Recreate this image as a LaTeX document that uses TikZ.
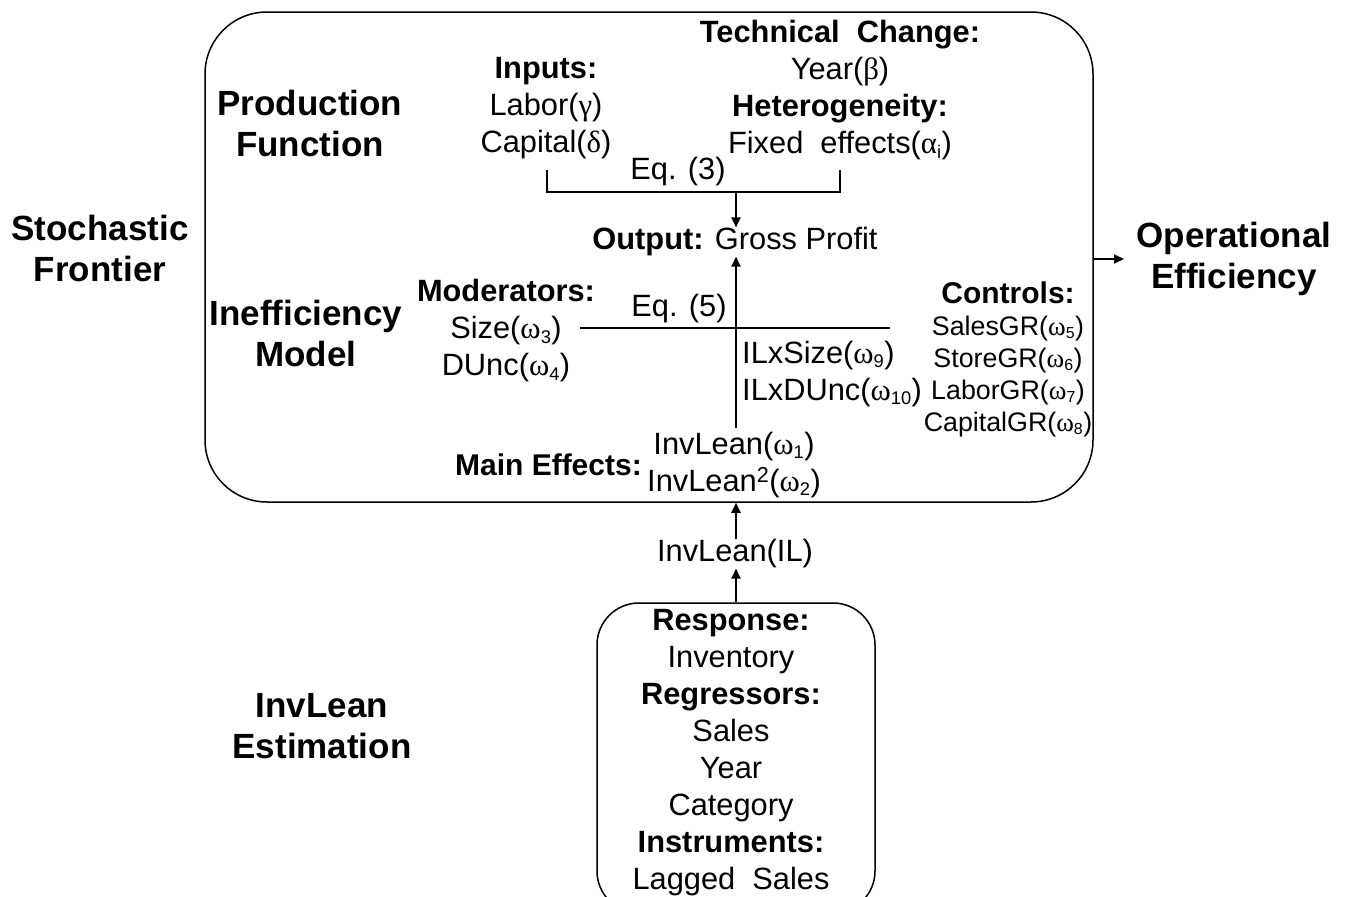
\documentclass[tikz,border=0pt]{standalone}
\usepackage{fontspec}
\usepackage{graphicx}
\setmainfont{Liberation Sans}
\newfontfamily\grk{Liberation Serif}
\newcommand\om{{\grk ω}}
\newcommand\lo[1]{\textsubscript{\scalebox{0.85}{#1}}}
\usetikzlibrary{arrows.meta}
\begin{document}
\begin{tikzpicture}[x=1pt,y=-1pt,
  txt/.style={font=\fontsize{30.8}{37}\selectfont, align=center, inner sep=0pt},
  sm/.style={font=\fontsize{26.8}{32}\selectfont, align=center, inner sep=0pt},
  ttl/.style={font=\bfseries\fontsize{35}{41}\selectfont, align=center, inner sep=0pt},
  box/.style={draw, line width=1.5pt},
  con/.style={line width=2pt},
  arr/.style={con, -{Triangle[width=9pt,length=10pt]}}]
\useasboundingbox (0,0) rectangle (1345,897);
% boxes
\node[box, rounded corners=62pt, minimum width=888pt, minimum height=490pt] (main) at (649,257) {};
\node[box, rounded corners=42pt, minimum width=278pt, minimum height=310pt] (est) at (736,758) {};
% outer titles
\node[ttl] (sf) at (100,248) {Stochastic\\Frontier};
\node[ttl] (pf) at (310,123) {Production\\Function};
\node[ttl] (im) at (306,333) {Inefficiency\\Model};
\node[ttl] (ile) at (322,726) {InvLean\\Estimation};
\node[ttl] (oe) at (1234,259) {Operational\\Efficiency};
% production function
\node[txt] (inp) at (546,108) {\textbf{Inputs:}\\Labor({\grk γ})\\Capital({\grk δ})};
\node[txt] (tc) at (840,90) {\textbf{Technical\ \ Change:}\\Year({\grk β})\\\textbf{Heterogeneity:}\\Fixed\ \ effects({\grk α}\lo{i})};
\node[txt] (eq3) at (678,172) {Eq. (3)};
\node[txt] (out) at (735,242) {\textbf{Output:} Gross Profit};
% inefficiency
\node[txt] (eq5) at (679,309) {Eq. (5)};
\node[txt] (mod) at (506,331) {\textbf{Moderators:}\\Size(\om\lo{3})\\DUnc(\om\lo{4})};
\node[txt, align=left, anchor=west] (ilx) at (742,374) {ILxSize(\om\lo{9})\\ILxDUnc(\om\lo{10})};
\node[sm] (ctl) at (1008,359) {\textbf{\fontsize{30}{32}\selectfont Controls:}\\SalesGR(\om\lo{5})\\StoreGR(\om\lo{6})\\LaborGR(\om\lo{7})\\CapitalGR(\om\lo{8})};
\node[txt] (mev) at (734,465) {InvLean(\om\lo{1})\\InvLean\textsuperscript{2}(\om\lo{2})};
\node[txt, font=\bfseries\fontsize{30}{37}\selectfont, anchor=east] (mel) at (642,465) {Main Effects:};
% below
\node[txt] (il) at (735,554) {InvLean(IL)};
\node[txt] (estt) at (731,753) {\textbf{Response:}\\Inventory\\\textbf{Regressors:}\\Sales\\Year\\Category\\\textbf{Instruments:}\\Lagged\ \ Sales};
% connectors
\coordinate (bl) at (547,170);
\coordinate (br) at (840,170);
\coordinate (bm) at (736,192);
\coordinate (vb) at (736,428);
\coordinate (hl) at (580,328);
\coordinate (hr) at (890,328);
\coordinate (oa) at (1124,259);
\draw[con] (bl) |- (bm) -| (br);
\draw[arr] (bm) -- (bm |- out.north);
\draw[arr] (vb) -- (vb |- out.south);
\draw[con] (hl) -- (hr);
\draw[arr] (il.north -| vb) -- (vb |- main.south);
\draw[arr] (vb |- est.north) -- (il.south -| vb);
\draw[arr] (main.east |- oa) -- (oa);
\end{tikzpicture}
\end{document}
